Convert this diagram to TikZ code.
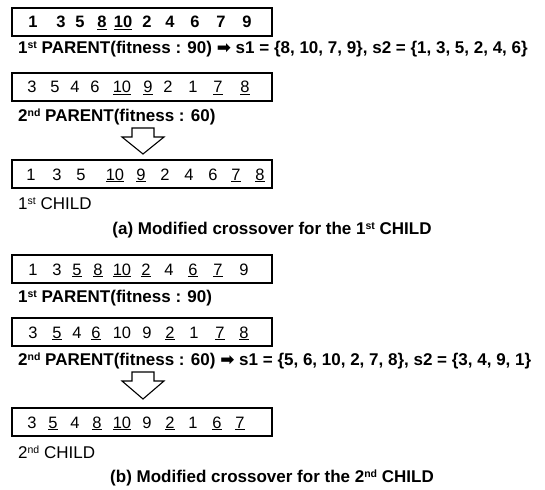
\documentclass[tikz,border=0pt]{standalone}
\usepackage{fontspec}
\setmainfont{Liberation Sans}
\newfontfamily\symfont{DejaVu Sans}
\newcommand\ulg[1]{\underline{#1}}
\newcommand\ordsup[1]{\raisebox{0.55ex}{\fontsize{10.5}{10.5}\selectfont #1}}
\newcommand\sst{\ordsup{st}}
\newcommand\snd{\ordsup{nd}}
\begin{document}
\begin{tikzpicture}[x=1pt,y=-1pt,
  chrom/.style={draw, line width=1.8pt, minimum width=260pt, minimum height=28pt,
    anchor=north west, inner sep=0pt, outer sep=0pt},
  gene/.style={font=\fontsize{16.5}{16.5}\selectfont, inner sep=0pt, anchor=base},
  bgene/.style={gene, font=\bfseries\fontsize{16.5}{16.5}\selectfont},
  lbl/.style={font=\bfseries\fontsize{17}{17}\selectfont, anchor=west, inner sep=0pt},
  clbl/.style={font=\fontsize{17}{17}\selectfont, anchor=west, inner sep=0pt},
  captext/.style={font=\bfseries\fontsize{17}{17}\selectfont, inner sep=0pt},
  blockarrow/.style={draw, line width=1.1pt, fill=white, line join=miter}]
\useasboundingbox (0,0) rectangle (545,489);

% ---------- (a) first child ----------
\node[chrom] (p1a) at (12,8) {};
\foreach \x/\g [count=\i] in {33/1, 61/3, 80/5, 102/\ulg{8}, 123/\ulg{10}, 147/2, 170/4, 195/6, 221/7, 247/9}
  \node[bgene] (p1a-\i) at (\x,28) {\g};
\node[lbl] (l1) at (18,49) {1\sst\ PARENT(fitness : 90) {\symfont ➡} s1 = \{8, 10, 7, 9\}, s2 = \{1, 3, 5, 2, 4, 6\}};

\node[chrom] (p2a) at (12,73) {};
\foreach \x/\g [count=\i] in {32/3, 55/5, 75/4, 95/6, 122/\ulg{10}, 148/\ulg{9}, 168/2, 193/1, 218/\ulg{7}, 245/\ulg{8}}
  \node[gene] (p2a-\i) at (\x,93) {\g};
\node[lbl] (l2) at (18,117) {2\snd\ PARENT(fitness : 60)};

\coordinate (arA) at (143,128);
\draw[blockarrow, shift={(arA)}] (-11,0) -- (11,0) -- (11,9) -- (21,9) -- (0,26) -- (-21,9) -- (-11,9) -- cycle;

\node[chrom] (c1) at (12,160) {};
\foreach \x/\g [count=\i] in {31/1, 57/3, 81/5, 115/\ulg{10}, 141/\ulg{9}, 165/2, 189/4, 213/6, 236/\ulg{7}, 260/\ulg{8}}
  \node[gene] (c1-\i) at (\x,180) {\g};
\node[clbl] (l3) at (18,204) {1\sst\ CHILD};

\node[captext] (capa) at (272,230) {(a) Modified crossover for the 1\sst\ CHILD};

% ---------- (b) second child ----------
\node[chrom] (p1b) at (12,255) {};
\foreach \x/\g [count=\i] in {33/1, 57/3, 77/\ulg{5}, 98/\ulg{8}, 122/\ulg{10}, 146/\ulg{2}, 169/4, 193/\ulg{6}, 218/\ulg{7}, 244/9}
  \node[gene] (p1b-\i) at (\x,275) {\g};
\node[lbl] (l4) at (18,298) {1\sst\ PARENT(fitness : 90)};

\node[chrom] (p2b) at (12,318) {};
\foreach \x/\g [count=\i] in {33/3, 57/\ulg{5}, 77/4, 96/\ulg{6}, 122/10, 147/9, 170/\ulg{2}, 194/1, 220/\ulg{7}, 244/\ulg{8}}
  \node[gene] (p2b-\i) at (\x,338) {\g};
\node[lbl] (l5) at (18,361) {2\snd\ PARENT(fitness : 60) {\symfont ➡} s1 = \{5, 6, 10, 2, 7, 8\}, s2 = \{3, 4, 9, 1\}};

\coordinate (arB) at (143,372);
\draw[blockarrow, shift={(arB)}] (-11,0) -- (11,0) -- (11,9) -- (21,9) -- (0,27) -- (-21,9) -- (-11,9) -- cycle;

\node[chrom] (c2) at (12,408) {};
\foreach \x/\g [count=\i] in {32/3, 53/\ulg{5}, 75/4, 97/\ulg{8}, 122/\ulg{10}, 147/9, 170/\ulg{2}, 193/1, 217/\ulg{6}, 240/\ulg{7}}
  \node[gene] (c2-\i) at (\x,428) {\g};
\node[clbl] (l6) at (18,452) {2\snd\ CHILD};

\node[captext] (capb) at (272,478) {(b) Modified crossover for the 2\snd\ CHILD};
\end{tikzpicture}
\end{document}
